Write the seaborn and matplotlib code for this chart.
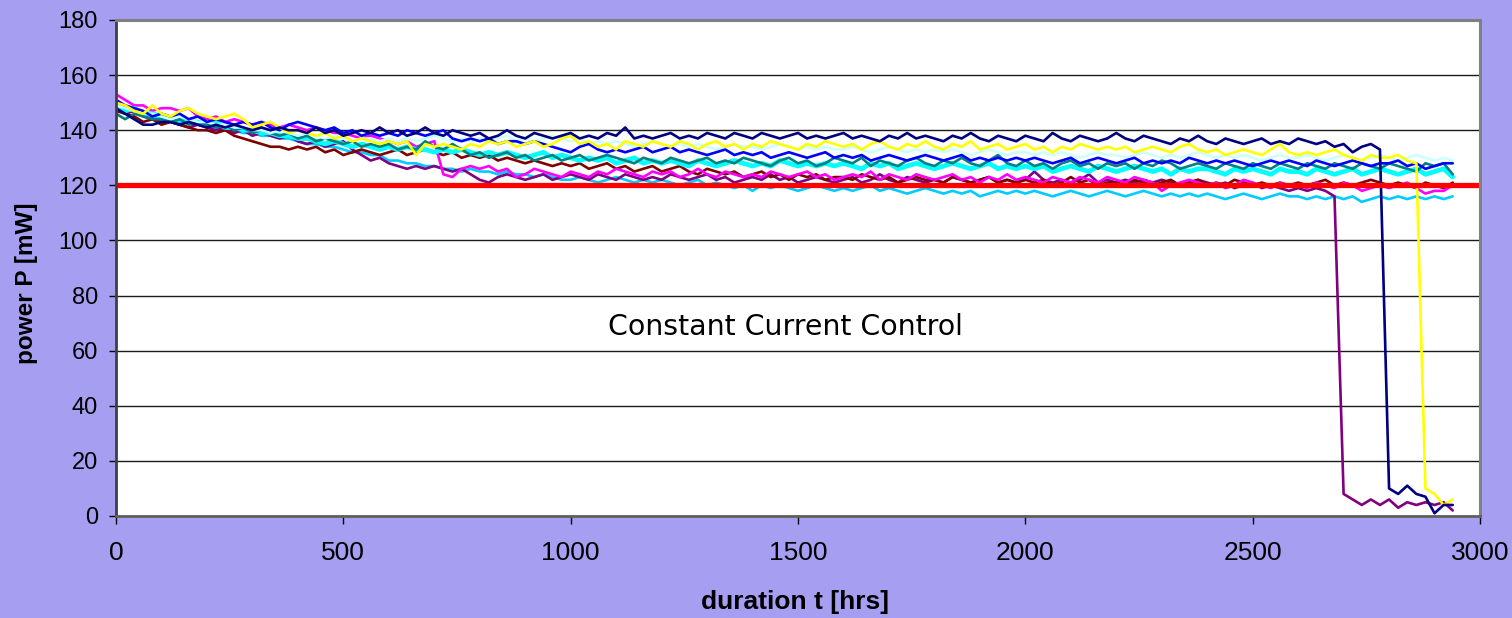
import numpy as np
import pandas as pd
import matplotlib
matplotlib.use("Agg")
import matplotlib.pyplot as plt
import seaborn as sns

# ---------------- data ----------------
hours = np.arange(0, 2941, 20)          # measurement times [hrs], 148 points
threshold = 120                          # red limit line [mW]
x_ticks = [0, 500, 1000, 1500, 2000, 2500, 3000]
y_ticks = [0, 20, 40, 60, 80, 100, 120, 140, 160, 180]
annotation = "Constant Current Control"

navy = [148, 146, 144, 142, 142, 143, 143, 142, 143, 142,
        141, 142, 141, 142, 141, 140, 141, 140, 141, 140,
        140, 139, 141, 139, 140, 138, 139, 140, 139, 141,
        139, 140, 138, 139, 141, 139, 138, 140, 139, 138,
        139, 137, 138, 140, 138, 137, 139, 138, 137, 138,
        139, 137, 138, 137, 139, 138, 141, 137, 138, 137,
        138, 139, 137, 138, 137, 139, 138, 137, 139, 138,
        137, 139, 138, 137, 138, 139, 137, 138, 137, 138,
        139, 137, 138, 137, 136, 138, 137, 139, 137, 138,
        137, 136, 138, 137, 139, 137, 136, 138, 137, 136,
        138, 137, 136, 139, 137, 136, 138, 137, 136, 137,
        139, 137, 136, 138, 137, 136, 135, 137, 136, 138,
        136, 135, 137, 136, 135, 136, 137, 135, 136, 135,
        137, 136, 135, 136, 134, 135, 132, 134, 135, 133,
        10, 8, 11, 8, 7, 1, 4, 4]

yellow = [150, 149, 147, 146, 149, 146, 145, 147, 148, 146,
          145, 144, 145, 146, 144, 141, 142, 143, 141, 139,
          140, 139, 138, 139, 137, 138, 136, 137, 136, 135,
          136, 135, 136, 131, 135, 134, 135, 134, 133, 135,
          134, 136, 135, 136, 134, 135, 136, 134, 135, 137,
          138, 135, 136, 134, 135, 133, 136, 135, 134, 136,
          135, 134, 136, 135, 133, 135, 136, 134, 135, 133,
          135, 134, 136, 135, 134, 133, 135, 134, 136, 135,
          134, 135, 133, 135, 136, 134, 133, 135, 134, 136,
          134, 133, 135, 134, 136, 133, 134, 135, 133, 134,
          135, 133, 134, 132, 134, 133, 135, 134, 133, 134,
          133, 134, 132, 133, 134, 133, 132, 134, 135, 133,
          132, 133, 131, 132, 133, 132, 131, 133, 135, 132,
          131, 132, 131, 132, 133, 131, 130, 129, 131, 130,
          130, 131, 129, 128, 10, 8, 4, 6]

blue = [151, 149, 148, 147, 145, 146, 145, 146, 144, 145,
        143, 144, 143, 142, 143, 142, 143, 141, 140, 142,
        143, 142, 141, 140, 141, 139, 140, 138, 139, 138,
        139, 138, 140, 139, 138, 139, 140, 137, 136, 137,
        136, 137, 135, 136, 136, 135, 136, 135, 134, 133,
        132, 134, 135, 133, 132, 133, 132, 133, 134, 132,
        133, 134, 132, 133, 132, 131, 132, 133, 131, 132,
        131, 132, 130, 131, 132, 131, 130, 131, 132, 130,
        131, 130, 131, 129, 130, 131, 130, 129, 130, 131,
        130, 129, 130, 131, 129, 130, 129, 130, 129, 130,
        129, 130, 129, 128, 129, 130, 128, 129, 130, 129,
        128, 129, 130, 128, 129, 128, 129, 128, 130, 129,
        128, 129, 128, 129, 128, 127, 128, 129, 128, 129,
        128, 127, 129, 128, 127, 128, 129, 128, 127, 128,
        128, 129, 127, 128, 126, 127, 128, 128]

light_turquoise = [149, 148, 147, 146, 146, 145, 144, 145, 144, 143,
                   143, 142, 142, 141, 141, 140, 140, 139, 140, 139,
                   138, 139, 138, 137, 138, 137, 136, 137, 137, 136,
                   137, 136, 137, 136, 137, 138, 137, 136, 137, 136,
                   137, 136, 137, 138, 136, 137, 136, 137, 138, 137,
                   136, 137, 135, 136, 135, 136, 135, 134, 135, 136,
                   135, 134, 135, 134, 135, 134, 133, 134, 135, 134,
                   134, 133, 134, 135, 134, 133, 134, 133, 134, 133,
                   133, 134, 133, 132, 133, 134, 133, 132, 133, 132,
                   133, 132, 133, 132, 131, 132, 133, 132, 131, 132,
                   132, 131, 132, 131, 132, 131, 130, 131, 132, 131,
                   131, 130, 131, 132, 131, 130, 131, 130, 131, 132,
                   131, 130, 131, 130, 131, 130, 129, 130, 131, 130,
                   130, 131, 130, 129, 130, 131, 130, 129, 130, 131,
                   130, 129, 130, 131, 130, 129, 130, 129]

teal = [146, 144, 146, 145, 144, 144, 143, 144, 142, 143,
        142, 141, 142, 140, 141, 139, 140, 139, 138, 139,
        137, 138, 136, 137, 136, 135, 136, 134, 135, 134,
        135, 133, 134, 133, 136, 134, 133, 135, 133, 131,
        132, 130, 131, 132, 130, 131, 129, 130, 131, 129,
        130, 131, 129, 130, 131, 130, 129, 128, 130, 129,
        128, 130, 129, 128, 129, 130, 128, 129, 128, 130,
        129, 128, 127, 129, 130, 128, 129, 127, 128, 130,
        129, 128, 130, 127, 129, 128, 127, 129, 130, 128,
        127, 129, 128, 130, 128, 127, 129, 131, 128, 127,
        129, 127, 128, 126, 128, 129, 127, 128, 126, 128,
        127, 128, 126, 128, 127, 129, 128, 126, 127, 128,
        127, 126, 128, 127, 126, 128, 127, 126, 128, 127,
        126, 128, 127, 126, 128, 127, 126, 128, 127, 126,
        128, 127, 126, 125, 128, 127, 128, 124]

cyan = [149, 147, 148, 146, 146, 145, 144, 144, 143, 143,
        142, 143, 141, 141, 140, 140, 139, 139, 138, 138,
        137, 137, 136, 135, 136, 135, 134, 135, 134, 133,
        134, 133, 134, 133, 133, 132, 133, 132, 133, 132,
        131, 132, 131, 132, 131, 130, 131, 132, 130, 131,
        130, 129, 130, 129, 130, 128, 129, 130, 128, 129,
        128, 129, 128, 127, 129, 128, 127, 128, 129, 128,
        127, 128, 127, 129, 128, 127, 128, 127, 128, 127,
        128, 127, 126, 128, 127, 128, 126, 127, 128, 127,
        126, 127, 128, 127, 126, 127, 128, 126, 127, 126,
        127, 126, 127, 125, 126, 127, 126, 125, 127, 126,
        125, 126, 127, 126, 125, 126, 124, 126, 125, 126,
        126, 125, 124, 126, 125, 126, 125, 124, 126, 125,
        125, 124, 126, 125, 124, 125, 126, 124, 125, 126,
        125, 124, 125, 126, 124, 125, 126, 123]

magenta = [153, 151, 149, 149, 147, 148, 148, 147, 148, 145,
           144, 145, 143, 144, 143, 142, 143, 142, 141, 142,
           141, 140, 141, 140, 139, 139, 138, 137, 138, 137,
           136, 135, 136, 134, 135, 136, 124, 123, 126, 127,
           126, 127, 125, 126, 123, 124, 126, 125, 124, 123,
           125, 124, 123, 125, 124, 126, 125, 124, 123, 125,
           124, 125, 123, 124, 126, 124, 123, 125, 124, 123,
           124, 123, 125, 124, 123, 124, 125, 123, 124, 122,
           123, 124, 123, 125, 122, 124, 123, 122, 124, 123,
           122, 123, 124, 122, 123, 121, 123, 122, 124, 122,
           123, 122, 121, 123, 122, 121, 123, 122, 121, 123,
           122, 121, 123, 122, 121, 118, 120, 121, 122, 121,
           120, 121, 119, 120, 122, 121, 120, 119, 121, 120,
           120, 119, 121, 120, 119, 121, 120, 118, 119, 120,
           119, 120, 121, 119, 117, 118, 118, 120]

maroon = [147, 146, 145, 143, 144, 142, 143, 142, 141, 140,
          140, 139, 140, 138, 137, 136, 135, 134, 134, 133,
          134, 133, 134, 132, 133, 131, 132, 133, 132, 131,
          132, 133, 131, 132, 133, 132, 131, 132, 130, 131,
          130, 131, 129, 130, 129, 128, 129, 128, 127, 128,
          127, 128, 126, 127, 128, 126, 127, 125, 126, 127,
          125, 126, 127, 125, 124, 126, 125, 124, 125, 123,
          124, 125, 123, 124, 122, 124, 123, 124, 122, 123,
          123, 122, 124, 123, 122, 123, 121, 122, 123, 122,
          122, 121, 123, 122, 121, 122, 123, 121, 122, 121,
          122, 121, 122, 120, 121, 123, 121, 122, 120, 121,
          121, 120, 122, 121, 120, 121, 122, 120, 121, 122,
          120, 121, 120, 122, 121, 120, 121, 120, 121, 120,
          121, 120, 121, 122, 120, 121, 120, 121, 122, 121,
          120, 121, 120, 119, 121, 120, 119, 121]

purple = [148, 146, 147, 145, 144, 143, 143, 142, 141, 142,
          141, 140, 141, 139, 140, 138, 139, 138, 137, 138,
          136, 135, 136, 134, 135, 136, 133, 131, 129, 130,
          128, 127, 126, 127, 126, 127, 126, 125, 126, 124,
          122, 121, 123, 124, 123, 122, 123, 124, 122, 123,
          124, 123, 122, 124, 123, 122, 124, 123, 122, 123,
          122, 124, 123, 122, 123, 124, 122, 123, 121, 122,
          123, 122, 124, 122, 123, 121, 122, 123, 122, 121,
          122, 123, 121, 122, 124, 122, 121, 123, 122, 121,
          122, 121, 123, 122, 121, 122, 123, 121, 122, 121,
          122, 125, 122, 121, 122, 121, 122, 124, 121, 122,
          121, 122, 121, 122, 121, 122, 121, 120, 121, 122,
          121, 120, 121, 119, 120, 121, 119, 120, 119, 118,
          119, 118, 119, 118, 116, 8, 6, 4, 6, 4,
          6, 3, 5, 4, 5, 4, 5, 2]

sky_blue = [149, 148, 147, 146, 145, 145, 144, 143, 143, 142,
            142, 141, 140, 140, 139, 139, 138, 138, 137, 137,
            136, 135, 135, 134, 134, 133, 132, 132, 131, 131,
            129, 129, 128, 128, 127, 127, 126, 126, 125, 126,
            125, 125, 124, 125, 124, 124, 123, 124, 123, 122,
            122, 123, 122, 121, 122, 123, 122, 121, 122, 121,
            122, 121, 120, 121, 122, 120, 121, 120, 119, 120,
            118, 120, 119, 120, 119, 118, 119, 120, 119, 118,
            119, 118, 119, 120, 118, 119, 118, 117, 118, 119,
            118, 117, 118, 117, 118, 116, 117, 118, 117, 118,
            117, 118, 117, 116, 117, 118, 117, 116, 117, 118,
            117, 116, 117, 118, 117, 116, 117, 116, 117, 116,
            117, 116, 115, 116, 117, 116, 115, 116, 117, 116,
            116, 115, 116, 115, 116, 115, 116, 114, 115, 116,
            115, 116, 115, 116, 115, 116, 115, 116]

series = [
    ("sky blue", sky_blue, "#00CCFF", 1.9),
    ("purple", purple, "#800080", 1.9),
    ("maroon", maroon, "#800000", 1.9),
    ("magenta", magenta, "#FF00FF", 1.9),
    ("cyan", cyan, "#00FFFF", 3.4),
    ("teal", teal, "#008080", 1.9),
    ("light turquoise", light_turquoise, "#CCFFFF", 1.9),
    ("blue", blue, "#0000FF", 1.9),
    ("yellow", yellow, "#FFFF00", 1.9),
    ("navy", navy, "#000080", 1.9),
]

# ---------------- figure ----------------
bg = "#A69EF0"
sns.set_style("white")
plt.rcParams["font.family"] = ["Liberation Sans", "DejaVu Sans"]
plt.rcParams["text.color"] = "black"
plt.rcParams["xtick.color"] = "black"
plt.rcParams["ytick.color"] = "black"
plt.rcParams["axes.labelcolor"] = "black"

fig = plt.figure(figsize=(15.12, 6.18), dpi=100, facecolor=bg)
ax = fig.add_axes([116 / 1512, 1 - 516 / 618, 1364 / 1512, 496 / 618])
ax.set_facecolor("white")

for name, vals, col, lw in series:
    n = min(len(hours), len(vals))
    if n != len(hours) or n != len(vals):
        print("length mismatch", name, len(vals))
    df = pd.DataFrame({"t": hours[:n], "P": vals[:n]})
    sns.lineplot(data=df, x="t", y="P", color=col, linewidth=lw, ax=ax,
                 estimator=None, sort=False, zorder=3)

ax.axhline(threshold, color="#FF0000", linewidth=3.8, zorder=5)

ax.set_xlim(0, 3000)
ax.set_ylim(0, 180)
ax.set_xticks(x_ticks)
ax.set_yticks(y_ticks)
ax.set_xticklabels([str(v) for v in x_ticks],
                   family=["Liberation Sans Narrow", "Liberation Sans"],
                   fontsize=19, color="black")
ax.set_yticklabels([str(v) for v in y_ticks], fontsize=17, color="black")

ax.yaxis.grid(True, color="#1a1a1a", linewidth=1.0, zorder=0)
ax.xaxis.grid(False)
ax.set_axisbelow(True)

ax.tick_params(axis="y", direction="out", length=5, width=1, color="black", pad=8, left=True)
ax.tick_params(axis="x", direction="out", length=6, width=1, color="black", pad=12, bottom=True)

for side in ["top", "right"]:
    ax.spines[side].set_color("#808080")
    ax.spines[side].set_linewidth(2.2)
ax.spines["left"].set_color("#404040")
ax.spines["left"].set_linewidth(2.0)
ax.spines["bottom"].set_color("#606060")
ax.spines["bottom"].set_linewidth(2.0)
for s in ax.spines.values():
    s.set_visible(True)
    s.set_zorder(6)

ax.set_xlabel("duration t [hrs]", fontsize=19, fontweight="bold", color="black",
              family=["Liberation Sans Narrow", "Liberation Sans"])
ax.xaxis.set_label_coords(0.498, -0.149)
ax.xaxis.label.set_verticalalignment("top")
ax.set_ylabel("power P [mW]", fontsize=17.5, fontweight="bold", color="black")
ax.yaxis.set_label_coords(-0.0572, 0.47)

ax.text(1473, 68.6, annotation, ha="center", va="center", fontsize=20.4,
        family=["DejaVu Sans"], color="black", zorder=7)

fig.savefig("out.png", dpi=100, facecolor=bg)
